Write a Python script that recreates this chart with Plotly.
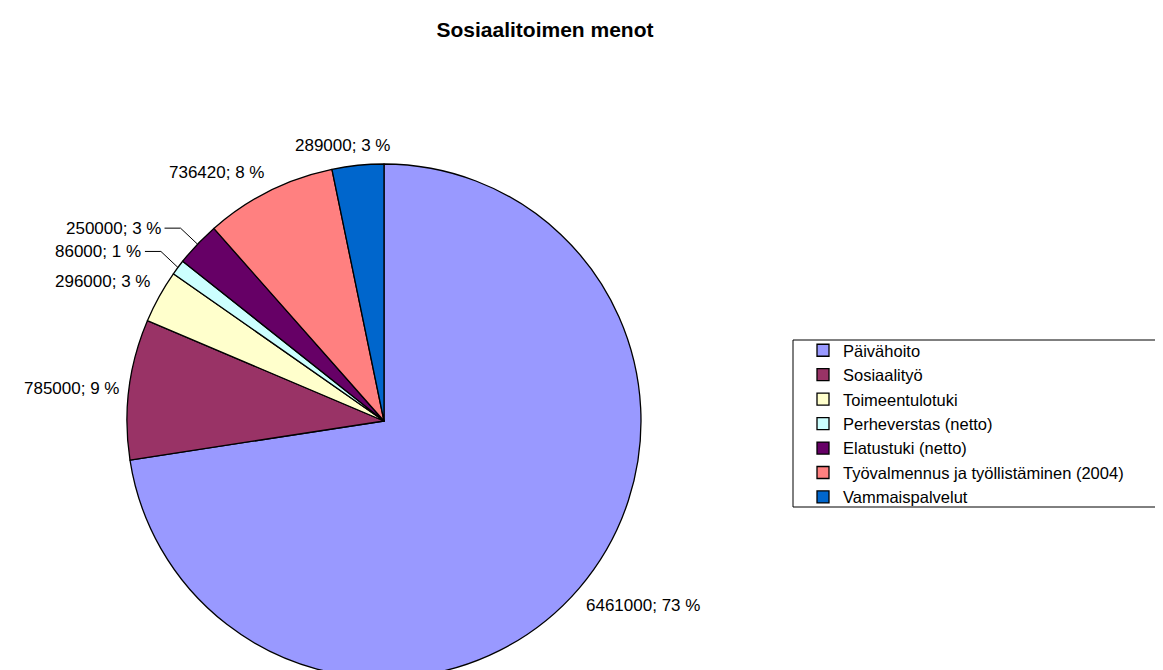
import math

import plotly.graph_objects as go

# data
CATEGORIES = [
    "Päivähoito",
    "Sosiaalityö",
    "Toimeentulotuki",
    "Perheverstas (netto)",
    "Elatustuki (netto)",
    "Työvalmennus ja työllistäminen (2004)",
    "Vammaispalvelut",
]
VALUES = [6461000, 785000, 296000, 86000, 250000, 736420, 289000]
COLORS = ["#9999FF", "#993366", "#FFFFCC", "#CCFFFF", "#660066", "#FF8080", "#0066CC"]
TITLE = "Sosiaalitoimen menot"

# figure geometry in pixels
W, H = 1163, 670
CX, CY, R = 376, 413, 257
FONT = "Arial, Liberation Sans, sans-serif"
LABEL_SIZE = 17
LEG_BOX = (785, 332, W + 5, 499)  # left, top, right, bottom (runs off the right edge)

total = sum(VALUES)
texts = [f"{v}; {round(v / total * 100)} %" for v in VALUES]


def paper(x, y):
    """Pixel coords (y down) -> paper coords."""
    return x / W, 1 - y / H


fig = go.Figure(
    go.Pie(
        labels=CATEGORIES,
        values=VALUES,
        sort=False,
        direction="clockwise",
        rotation=0,
        textinfo="none",
        hoverinfo="label+value+percent",
        marker=dict(colors=COLORS, line=dict(color="black", width=1.3)),
        domain=dict(
            x=[(CX - R) / W, (CX + R) / W],
            y=[(H - CY - R) / H, (H - CY + R) / H],
        ),
    )
)

# data labels placed just outside each slice, Excel style
annotations = []
shapes = []
cum = 0.0
for v, txt in zip(VALUES, texts):
    frac = v / total
    theta = 2 * math.pi * (cum + frac / 2)
    cum += frac
    sx, sy = math.sin(theta), -math.cos(theta)
    font = dict(family=FONT, size=LABEL_SIZE, color="black")
    if frac < 0.03:
        # small slices: label pushed out with an elbow leader line
        ex, ey = CX + R * sx, CY + R * sy
        p0, p1, p2 = paper(ex, ey), paper(ex - 17, ey - 16), paper(ex - 33, ey - 16)
        shapes.append(
            dict(
                type="path", xref="paper", yref="paper",
                path=f"M {p0[0]},{p0[1]} L {p1[0]},{p1[1]} L {p2[0]},{p2[1]}",
                line=dict(color="black", width=1),
            )
        )
        tx, ty = paper(ex - 35, ey - 16)
        annotations.append(
            dict(x=tx, y=ty, xref="paper", yref="paper", text=txt,
                 showarrow=False, xanchor="right", yanchor="middle", font=font)
        )
        continue
    px, py = CX + (R + 10) * sx, CY + (R + 8) * sy
    est_w = len(txt) * 0.51 * LABEL_SIZE
    shift = max(-1.0, min(1.0, sx * 3)) * est_w / 2
    yanchor = "top" if sy > 0.25 else ("bottom" if sy < -0.25 else "middle")
    x, y = paper(px, py)
    annotations.append(
        dict(x=x, y=y, xref="paper", yref="paper", text=txt, showarrow=False,
             xanchor="center", xshift=shift, yanchor=yanchor, font=font)
    )

# legend frame (the original's frame is cut by the right edge)
bx0, by0 = paper(LEG_BOX[0], LEG_BOX[1])
bx1, by1 = paper(LEG_BOX[2], LEG_BOX[3])
shapes.append(
    dict(type="rect", xref="paper", yref="paper", x0=bx0, y0=by0, x1=bx1, y1=by1,
         line=dict(color="black", width=1), fillcolor="rgba(0,0,0,0)", layer="below")
)

fig.update_layout(
    width=W,
    height=H,
    margin=dict(l=0, r=0, t=0, b=0),
    paper_bgcolor="white",
    plot_bgcolor="white",
    title=dict(
        text=f"<b>{TITLE}</b>",
        x=537 / W, xanchor="center",
        y=1 - 22 / H, yanchor="middle", yref="container",
        font=dict(family=FONT, size=21, color="black"),
    ),
    font=dict(family=FONT, size=17, color="black"),
    legend=dict(
        x=(835 - 40) / W, y=1 - 325 / H, xanchor="left", yanchor="top",
        borderwidth=0, bgcolor="rgba(0,0,0,0)",
        font=dict(family=FONT, size=16.5, color="black"),
        traceorder="normal",
    ),
    annotations=annotations,
    shapes=shapes,
    showlegend=True,
)

fig.write_html("out.html")
